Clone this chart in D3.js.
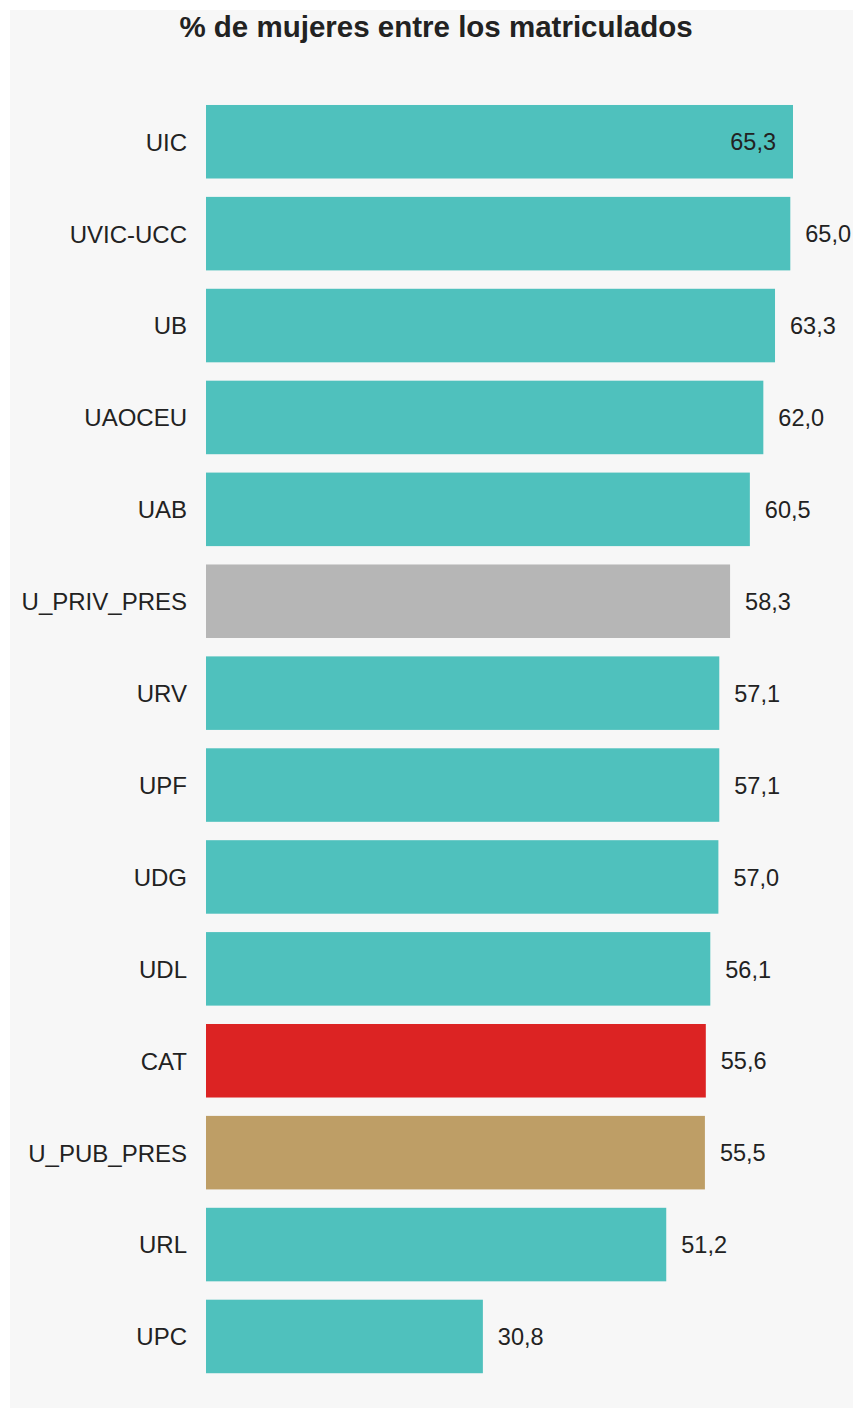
<!DOCTYPE html>
<html>
<head>
<meta charset="utf-8">
<script src="https://cdn.jsdelivr.net/npm/d3@7"></script>
<style>
  body { margin: 0; background: #fff; }
  text { font-family: "Liberation Sans", Arial, sans-serif; fill: #222; }
</style>
</head>
<body>
<svg id="chart"></svg>
<script>
(function () {
  'use strict';

  const universities = ["UIC", "UVIC-UCC", "UB", "UAOCEU", "UAB", "U_PRIV_PRES", "URV", "UPF", "UDG", "UDL", "CAT", "U_PUB_PRES", "URL", "UPC"];
  const womenPct = [65.3, 65.0, 63.3, 62.0, 60.5, 58.3, 57.1, 57.1, 57.0, 56.1, 55.6, 55.5, 51.2, 30.8];
  const title = "% de mujeres entre los matriculados";

  // highlighted rows
  const specialColors = { "U_PRIV_PRES": "#b6b6b6", "CAT": "#dc2323", "U_PUB_PRES": "#be9e66" };
  const baseColor = "#4fc1bd";

  const width = 853;
  const height = 1409;

  const data = universities.map((u, i) => ({ name: u, value: womenPct[i] }));
  const maxValue = d3.max(data, d => d.value);

  const svg = d3.select("#chart")
    .attr("width", width)
    .attr("height", height);

  svg.append("rect")
    .attr("x", 10)
    .attr("y", 10)
    .attr("width", width - 10)
    .attr("height", height - 11)
    .attr("fill", "#f7f7f7");

  svg.append("text")
    .attr("x", 436)
    .attr("y", 37)
    .attr("text-anchor", "middle")
    .style("font-size", "29.5px")
    .style("font-weight", "bold")
    .text(title);

  const x = d3.scaleLinear()
    .domain([0, maxValue])
    .range([206, 793]);

  const y = d3.scaleBand()
    .domain(universities)
    .range([86.6, 1391.6])
    .padding(0.2);

  const rows = svg.append("g")
    .selectAll("g")
    .data(data)
    .join("g");

  rows.append("rect")
    .attr("x", x(0))
    .attr("y", d => y(d.name))
    .attr("width", d => x(d.value) - x(0))
    .attr("height", y.bandwidth())
    .attr("fill", d => specialColors[d.name] || baseColor);

  rows.append("text")
    .attr("x", 187)
    .attr("y", d => y(d.name) + y.bandwidth() / 2)
    .attr("dy", "0.37em")
    .attr("text-anchor", "end")
    .style("font-size", "24px")
    .text(d => d.name);

  // value labels; the longest bar gets its label inside
  const inside = d => d.value === maxValue;
  rows.append("text")
    .attr("x", d => inside(d) ? x(d.value) - 17 : x(d.value) + 15)
    .attr("y", d => y(d.name) + y.bandwidth() / 2)
    .attr("dy", "0.37em")
    .attr("text-anchor", d => inside(d) ? "end" : "start")
    .style("font-size", "23.5px")
    .text(d => d.value.toFixed(1).replace(".", ","));

})();
</script>
</body>
</html>
